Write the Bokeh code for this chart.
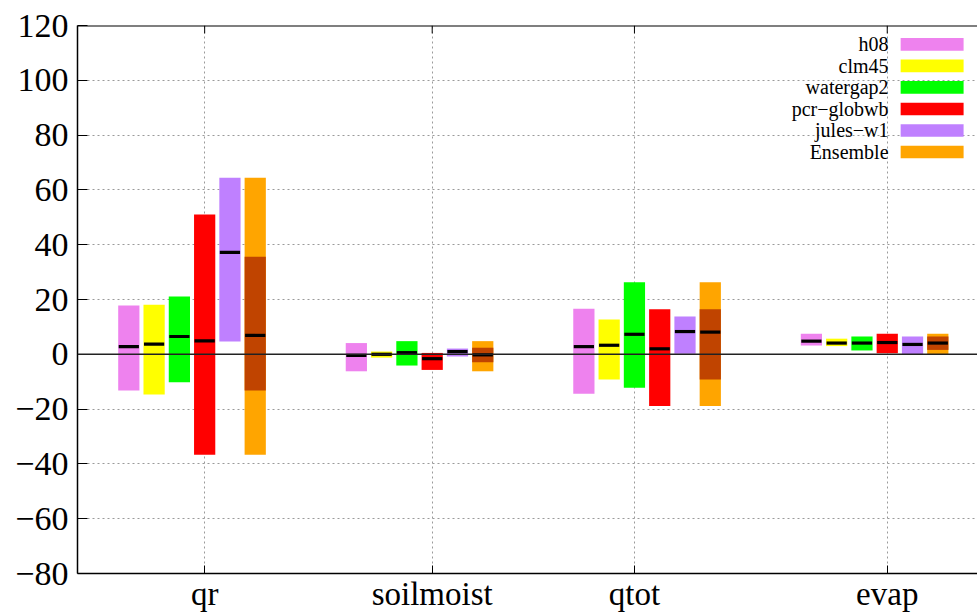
from bokeh.plotting import figure
from bokeh.models import Range1d, FixedTicker, Span, ColumnDataSource
from bokeh.embed import file_html
from bokeh.resources import INLINE
from bokeh.core.properties import value

# ---------------- data ----------------
categories = ["qr", "soilmoist", "qtot", "evap"]
legend_labels = ["h08", "clm45", "watergap2", "pcr\u2212globwb", "jules\u2212w1", "Ensemble"]

h08_hi = [17.8, 4.1, 16.6, 7.5]
h08_lo = [-13.2, -6.2, -14.4, 3.2]
h08_med = [2.8, -0.4, 2.8, 4.8]

clm45_hi = [18.1, 1.0, 12.7, 5.7]
clm45_lo = [-14.7, -1.2, -9.2, 3.0]
clm45_med = [3.7, 0.0, 3.3, 4.1]

watergap2_hi = [21.1, 4.8, 26.3, 6.5]
watergap2_lo = [-10.2, -4.1, -12.2, 1.4]
watergap2_med = [6.5, 0.6, 7.3, 4.1]

pcr_hi = [51.0, 0.5, 16.4, 7.5]
pcr_lo = [-36.7, -5.7, -18.9, 0.4]
pcr_med = [4.9, -1.6, 2.0, 4.3]

jules_hi = [64.4, 2.1, 13.8, 6.5]
jules_lo = [4.7, -0.8, 0.2, 0.0]
jules_med = [37.2, 1.0, 8.3, 3.6]

ens_hi = [64.4, 4.8, 26.3, 7.5]
ens_lo = [-36.7, -6.2, -18.9, 0.0]
ens_inner_hi = [35.6, 2.4, 16.4, 6.5]
ens_inner_lo = [-13.2, -2.9, -9.2, 1.6]
ens_med = [6.9, -0.2, 8.1, 4.1]

y_ticks = [-80, -60, -40, -20, 0, 20, 40, 60, 80, 100, 120]

# ---------------- layout / style ----------------
colors = ["#ee82ee", "#ffff00", "#00ff00", "#ff0000", "#bf80ff", "#ffa500"]
inner_color = "#c04400"
GROUP_STEP = 9.0
BAR_W = 0.84
MED_W = 0.80
tick_offsets = [0.5, 0.5, -0.5, 0.5]
FONT = "Liberation Serif"
Y_MIN, Y_MAX = -80, 120
TOP_TICK_LEN = 2.9

p = figure(width=977, height=615, output_backend="svg", toolbar_location=None,
           x_range=Range1d(-4.53, 31.07), y_range=Range1d(Y_MIN, Y_MAX),
           min_border_left=77, min_border_right=0, min_border_top=25, min_border_bottom=42)
p.outline_line_color = None
p.background_fill_color = "white"
p.border_fill_color = "white"

tick_x = [GROUP_STEP * g + o for g, o in enumerate(tick_offsets)]

# x axis
xa = p.xaxis[0]
xa.ticker = FixedTicker(ticks=tick_x)
xa.major_label_overrides = {t: c for t, c in zip(tick_x, categories)}
xa.major_label_text_font = FONT
xa.major_label_text_font_size = "33px"
xa.major_label_text_color = "black"
xa.major_label_standoff = 2
xa.major_tick_in = 8
xa.major_tick_out = 0
xa.minor_tick_line_color = None
xa.axis_line_width = 1.5
xa.axis_line_color = "black"
xa.major_tick_line_color = "black"

# y axis
ya = p.yaxis[0]
ya.ticker = FixedTicker(ticks=y_ticks)
ya.major_label_text_font = FONT
ya.major_label_text_font_size = "34px"
ya.major_label_text_color = "black"
ya.major_label_standoff = 9
ya.major_tick_in = 10
ya.major_tick_out = 0
ya.minor_tick_line_color = None
ya.axis_line_width = 1.5
ya.axis_line_color = "black"
ya.major_tick_line_color = "black"

# grids
p.xgrid.ticker = FixedTicker(ticks=tick_x)
p.ygrid.ticker = FixedTicker(ticks=y_ticks)
for g in (p.xgrid[0], p.ygrid[0]):
    g.grid_line_color = "#9a9a9a"
    g.grid_line_dash = "2 3"
    g.grid_line_width = 1

# bars
series = [
    (h08_lo, h08_hi, h08_med),
    (clm45_lo, clm45_hi, clm45_med),
    (watergap2_lo, watergap2_hi, watergap2_med),
    (pcr_lo, pcr_hi, pcr_med),
    (jules_lo, jules_hi, jules_med),
    (ens_lo, ens_hi, ens_med),
]
for k, (lo, hi, med) in enumerate(series):
    xs = [GROUP_STEP * g + k - 2.5 for g in range(len(categories))]
    src = ColumnDataSource(dict(
        left=[x - BAR_W / 2 for x in xs], right=[x + BAR_W / 2 for x in xs],
        bottom=lo, top=hi,
        ml=[x - MED_W / 2 for x in xs], mr=[x + MED_W / 2 for x in xs], med=med))
    p.quad(left="left", right="right", bottom="bottom", top="top", source=src,
           fill_color=colors[k], line_color=None)
    if k == 5:
        isrc = ColumnDataSource(dict(left=src.data["left"], right=src.data["right"],
                                     bottom=ens_inner_lo, top=ens_inner_hi))
        p.quad(left="left", right="right", bottom="bottom", top="top", source=isrc,
               fill_color=inner_color, line_color=None)
    p.segment(x0="ml", x1="mr", y0="med", y1="med", source=src,
              line_color="black", line_width=3.2)

# zero line and top border with mirrored ticks
p.add_layout(Span(location=0, dimension="width", line_color="#222222", line_width=1.5))
p.add_layout(Span(location=Y_MAX, dimension="width", line_color="black", line_width=2))
p.segment(x0=tick_x, x1=tick_x, y0=[Y_MAX] * len(tick_x),
          y1=[Y_MAX - TOP_TICK_LEN] * len(tick_x), line_color="black", line_width=1)

# legend (label left, swatch right)
LEG_TEXT_X = 27.55
SW_L, SW_R = 28.03, 30.52
LEG_Y0, LEG_DY, SW_H = 113.1, 7.85, 4.6
ly = [LEG_Y0 - i * LEG_DY for i in range(len(legend_labels))]
lsrc = ColumnDataSource(dict(x=[LEG_TEXT_X] * len(ly), y=ly, t=legend_labels,
                             l=[SW_L] * len(ly), r=[SW_R] * len(ly),
                             b=[v - SW_H / 2 for v in ly], tp=[v + SW_H / 2 for v in ly],
                             c=colors))
p.text(x="x", y="y", text="t", source=lsrc, text_align="right", text_baseline="middle",
       text_font=value(FONT), text_font_size="20px", text_color="black")
p.quad(left="l", right="r", bottom="b", top="tp", fill_color="c", line_color=None, source=lsrc)

open("out.html", "w").write(file_html(p, INLINE))
